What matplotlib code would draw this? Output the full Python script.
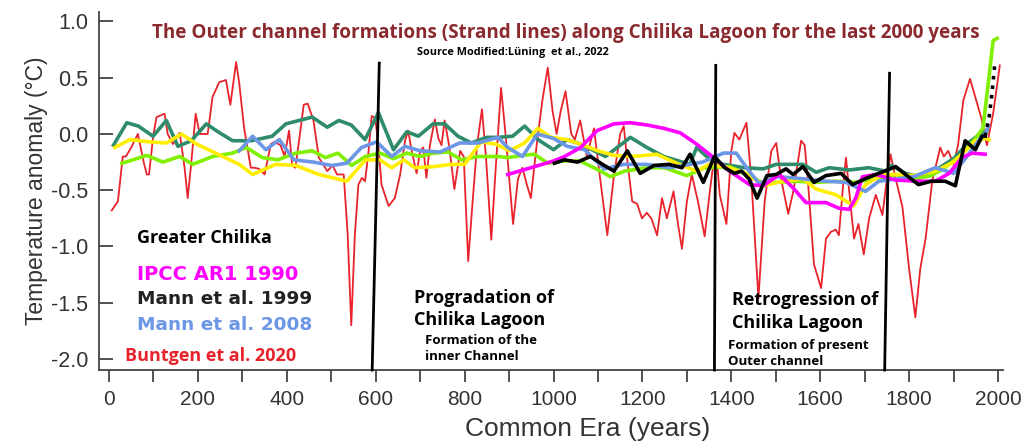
import numpy as np
import matplotlib
matplotlib.use("Agg")
import matplotlib.pyplot as plt

# Buntgen et al. 2020 (red)
red_yr = [6, 20, 31, 38, 50, 65, 78, 85, 90, 100, 107, 125, 132, 144, 159, 170, 177, 184, 195, 204,
          215, 222, 233, 248, 263, 273, 286, 293, 304, 319, 327, 338, 350, 364, 372, 386, 395, 405, 412, 419,
          428, 438, 447, 460, 472, 491, 503, 513, 528, 537, 545, 553, 561, 569, 576, 584, 591, 599, 606, 613,
          629, 643, 655, 666, 673, 681, 692, 700, 707, 714, 722, 733, 741, 748, 755, 765, 777, 790, 798, 808,
          818, 828, 839, 848, 860, 870, 882, 892, 909, 920, 930, 940, 949, 962, 975, 987, 998, 1007, 1016, 1027,
          1040, 1048, 1060, 1075, 1091, 1105, 1121, 1135, 1150, 1158, 1165, 1177, 1188, 1199, 1210, 1220, 1233, 1244, 1255, 1270,
          1280, 1289, 1300, 1311, 1325, 1340, 1352, 1360, 1367, 1374, 1389, 1400, 1407, 1418, 1434, 1445, 1461, 1475, 1490, 1501,
          1512, 1528, 1540, 1557, 1565, 1572, 1586, 1602, 1613, 1624, 1635, 1642, 1651, 1658, 1665, 1676, 1686, 1698, 1710, 1725,
          1740, 1750, 1758, 1770, 1785, 1800, 1814, 1825, 1837, 1852, 1870, 1878, 1888, 1900, 1910, 1922, 1937, 1953, 1964, 1975,
          1989, 2004]
red_val = [-0.68, -0.60, -0.20, -0.20, -0.12, 0.0, -0.25, -0.36, -0.36, 0.0, 0.15, 0.18, 0.0, -0.09, 0.01, -0.30, -0.57, -0.30, 0.18, 0.0,
           0.0, 0.0, 0.33, 0.46, 0.48, 0.26, 0.64, 0.45, 0.05, -0.30, -0.30, -0.31, -0.36, -0.09, -0.07, -0.10, -0.20, 0.03, -0.28, -0.30,
           -0.05, 0.26, 0.27, 0.12, -0.21, -0.33, -0.28, -0.36, -0.36, -0.90, -1.70, -0.90, -0.45, -0.39, -0.42, -0.15, 0.16, 0.14, -0.10, -0.45,
           -0.64, -0.57, -0.36, -0.06, 0.03, -0.15, -0.35, -0.15, -0.12, -0.39, -0.10, 0.13, -0.04, -0.10, 0.12, -0.10, -0.49, -0.15, -0.20, -1.13,
           -0.60, -0.10, 0.22, -0.20, -0.94, -0.30, 0.41, 0.0, -0.80, -0.40, -0.30, -0.45, -0.57, -0.10, 0.30, 0.59, 0.20, 0.0, 0.20, 0.38,
           0.0, -0.05, 0.12, -0.20, 0.05, -0.40, -0.90, -0.40, 0.0, 0.07, -0.20, -0.60, -0.62, -0.75, -0.70, -0.75, -0.90, -0.57, -0.75, -0.51,
           -0.80, -1.02, -0.60, -0.36, -0.60, -0.91, -0.50, -0.25, -0.21, -0.54, -0.80, -0.15, 0.01, -0.05, 0.10, -0.40, -1.46, -0.60, -0.15, -0.08,
           -0.40, -0.71, -0.50, -0.06, -0.10, -0.40, -1.16, -1.37, -0.93, -0.87, -0.85, -0.90, -0.48, -0.21, -0.50, -0.93, -0.80, -1.07, -0.75, -0.54,
           -0.72, -0.40, -0.18, -0.40, -0.65, -1.20, -1.63, -1.20, -0.93, -0.42, -0.12, -0.20, -0.15, -0.27, -0.10, 0.30, 0.49, 0.27, 0.12, -0.10,
           0.18, 0.61]

# teal series
teal_yr = [10, 40, 66, 99, 129, 155, 185, 219, 245, 278, 320, 367, 398, 457, 491, 517, 545, 576, 606, 640,
           670, 696, 729, 755, 785, 815, 850, 875, 908, 935, 965, 1000, 1030, 1061, 1117, 1173, 1210, 1248, 1307, 1322,
           1350, 1382, 1430, 1472, 1501, 1561, 1591, 1620, 1665, 1709, 1747, 1760, 1792, 1821, 1860, 1900, 1933, 1960, 1975]
teal_val = [-0.10, 0.10, 0.07, -0.02, 0.12, -0.11, -0.06, 0.09, 0.02, -0.06, -0.06, -0.02, 0.09, 0.15, 0.06, 0.12, 0.08, -0.05, 0.19, -0.14,
            0.02, -0.02, 0.09, 0.09, -0.02, -0.08, -0.03, -0.03, -0.02, 0.07, -0.05, -0.14, -0.05, -0.09, -0.20, -0.03, -0.12, -0.20, -0.27, -0.12,
            -0.22, -0.27, -0.30, -0.31, -0.27, -0.27, -0.34, -0.30, -0.32, -0.30, -0.33, -0.28, -0.35, -0.38, -0.32, -0.22, -0.08, 0.0, 0.03]

# light green series
lime_yr = [29, 54, 85, 121, 159, 188, 233, 278, 309, 345, 380, 420, 457, 487, 515, 546, 577, 610, 640, 670,
           700, 730, 763, 793, 830, 875, 897, 930, 957, 987, 1020, 1060, 1106, 1128, 1160, 1210, 1250, 1300, 1340, 1396,
           1430, 1472, 1500, 1546, 1591, 1635, 1680, 1720, 1770, 1814, 1850, 1880, 1919, 1949, 1966, 1978, 1989, 1998]
lime_val = [-0.26, -0.23, -0.19, -0.25, -0.20, -0.27, -0.20, -0.17, -0.12, -0.21, -0.23, -0.17, -0.15, -0.21, -0.17, -0.28, -0.20, -0.17, -0.22, -0.17,
            -0.20, -0.17, -0.16, -0.23, -0.20, -0.20, -0.21, -0.19, -0.18, -0.26, -0.24, -0.24, -0.33, -0.38, -0.33, -0.30, -0.30, -0.37, -0.30, -0.29,
            -0.35, -0.44, -0.43, -0.42, -0.43, -0.42, -0.43, -0.40, -0.36, -0.40, -0.37, -0.30, -0.18, -0.04, 0.05, 0.45, 0.83, 0.85]

# yellow series
yel_yr = [13, 47, 90, 129, 163, 197, 245, 293, 323, 375, 420, 472, 535, 577, 610, 636, 663, 688, 730, 770,
          800, 837, 870, 901, 935, 965, 994, 1030, 1061, 1100, 1136, 1180, 1232, 1277, 1322, 1350, 1395, 1440, 1472, 1516,
          1561, 1591, 1635, 1675, 1702, 1740, 1770, 1810, 1859, 1900, 1949, 1971, 1980]
yel_val = [-0.12, -0.05, -0.07, -0.08, 0.0, -0.09, -0.18, -0.27, -0.36, -0.27, -0.28, -0.36, -0.42, -0.23, -0.23, -0.30, -0.23, -0.30, -0.29, -0.27,
           -0.27, -0.07, -0.09, -0.15, -0.08, 0.05, -0.03, -0.05, -0.09, -0.15, -0.19, -0.20, -0.18, -0.26, -0.33, -0.27, -0.30, -0.36, -0.46, -0.42,
           -0.40, -0.49, -0.54, -0.64, -0.45, -0.36, -0.36, -0.37, -0.33, -0.25, -0.06, -0.04, -0.05]

# Mann et al. 2008 (blue)
blue_yr = [293, 323, 353, 383, 416, 460, 501, 535, 568, 602, 636, 666, 700, 745, 789, 830, 875, 897, 930, 964,
           1000, 1031, 1070, 1114, 1158, 1210, 1260, 1307, 1335, 1360, 1382, 1411, 1440, 1463, 1500, 1540, 1613, 1658, 1702, 1732,
           1770, 1810, 1859, 1900, 1930, 1956, 1971, 1978]
blue_val = [-0.15, -0.02, -0.14, -0.05, -0.23, -0.25, -0.28, -0.26, -0.12, -0.07, -0.20, -0.11, -0.15, -0.16, -0.08, -0.08, -0.03, -0.12, -0.20, 0.0,
            -0.04, -0.11, -0.14, -0.31, -0.27, -0.27, -0.30, -0.27, -0.25, -0.21, -0.17, -0.17, -0.33, -0.44, -0.38, -0.39, -0.42, -0.43, -0.51, -0.42,
            -0.40, -0.38, -0.30, -0.35, -0.20, -0.06, 0.0, 0.07]

# IPCC AR1 1990 (magenta)
mag_yr = [897, 949, 1000, 1025, 1061, 1098, 1136, 1173, 1210, 1248, 1285, 1322, 1360, 1396, 1441, 1472, 1508, 1539, 1568, 1613,
          1642, 1665, 1680, 1695, 1725, 1770, 1820, 1859, 1890, 1919, 1942, 1971]
mag_val = [-0.36, -0.30, -0.24, -0.20, -0.12, 0.03, 0.09, 0.10, 0.08, 0.05, 0.01, -0.09, -0.21, -0.33, -0.45, -0.46, -0.36, -0.48, -0.61, -0.61,
           -0.66, -0.67, -0.57, -0.38, -0.36, -0.41, -0.42, -0.42, -0.35, -0.21, -0.17, -0.18]

# Mann et al. 1999 (black) + dotted instrumental end
blk_yr = [1002, 1025, 1054, 1083, 1110, 1136, 1166, 1195, 1226, 1260, 1289, 1307, 1337, 1362, 1385, 1407, 1423, 1440, 1458, 1480,
          1501, 1523, 1539, 1561, 1586, 1613, 1647, 1673, 1700, 1725, 1745, 1770, 1795, 1821, 1850, 1881, 1904, 1926, 1949, 1964, 1971]
blk_val = [-0.26, -0.23, -0.25, -0.20, -0.27, -0.33, -0.15, -0.35, -0.28, -0.27, -0.30, -0.18, -0.43, -0.20, -0.30, -0.35, -0.33, -0.40, -0.57, -0.37,
           -0.36, -0.31, -0.36, -0.29, -0.43, -0.37, -0.35, -0.45, -0.40, -0.36, -0.33, -0.29, -0.37, -0.45, -0.42, -0.42, -0.46, -0.06, -0.14, -0.02, -0.02]
dot_yr = [1971, 1980, 1986, 1993]
dot_val = [-0.02, 0.15, 0.35, 0.63]

# slanted boundary lines (year at top/bottom, value at top)
bound_top_yr = [608, 1365, 1756]
bound_bot_yr = [592, 1362, 1745]
bound_top_val = [0.63, 0.61, 0.54]

ymin, ymax = -2.098, 1.086

fig = plt.figure(figsize=(10.26, 4.45), dpi=100)
ax = fig.add_axes([0.0965, 0.1685, 0.881, 0.805])

ax.plot(red_yr, red_val, color="#e8232b", linewidth=1.3, zorder=2)
ax.plot(teal_yr, teal_val, color="#2e8b6b", linewidth=2.6, zorder=3)
ax.plot(lime_yr, lime_val, color="#80f000", linewidth=2.6, zorder=4)
ax.plot(yel_yr, yel_val, color="#ffee00", linewidth=2.6, zorder=5)
ax.plot(blue_yr, blue_val, color="#6c96e6", linewidth=2.6, zorder=6)
ax.plot(mag_yr, mag_val, color="#ff00ff", linewidth=2.6, zorder=7)
ax.plot(blk_yr, blk_val, color="black", linewidth=2.6, zorder=8)
ax.plot(dot_yr, dot_val, color="black", linewidth=2.6, linestyle=":", zorder=8)

for t, b, v in zip(bound_top_yr, bound_bot_yr, bound_top_val):
    ax.plot([t, b], [v, ymin], color="black", linewidth=2, zorder=9, clip_on=False)

ax.set_xlim(-22.5, 2011)
ax.set_ylim(ymin, ymax)

ax.spines["top"].set_visible(False)
ax.spines["right"].set_visible(False)
for s in ["left", "bottom"]:
    ax.spines[s].set_linewidth(1.3)
    ax.spines[s].set_color("#444444")

ax.set_xticks(range(0, 2001, 100))
ax.set_xticklabels([str(v) if v % 200 == 0 else "" for v in range(0, 2001, 100)])
ax.set_yticks(np.arange(-2.0, 1.01, 0.5))
ax.set_yticklabels(["%.1f" % v for v in np.arange(-2.0, 1.01, 0.5)])
ax.tick_params(axis="x", direction="out", length=8.5, width=1.3, color="#444444",
               labelsize=15, labelcolor="#333333", pad=6)
ax.tick_params(axis="y", direction="in", length=10, width=1.3, color="#444444",
               labelsize=15.5, labelcolor="#333333", pad=8)
for lab in ax.get_xticklabels() + ax.get_yticklabels():
    lab.set_family("Liberation Sans")

ax.set_xlabel("Common Era (years)", fontsize=19, color="#333333", family="Liberation Sans")
ax.xaxis.set_label_coords(0.541, -0.132)
ax.set_ylabel("Temperature anomaly (°C)", fontsize=16.5, color="#333333", family="Liberation Sans", labelpad=2)

fig.text(0.551, 0.926, "The Outer channel formations (Strand lines) along Chilika Lagoon for the last 2000 years",
         ha="center", va="center", fontsize=13.6, fontweight="bold", color="#8b2a2e", family="Open Sans")
fig.text(0.500, 0.881, "Source Modified:Lüning  et al., 2022", ha="center", va="center",
         fontsize=7.8, fontweight="bold", color="black", family="Open Sans")

fig.text(0.1335, 0.465, "Greater Chilika", ha="left", va="center", fontsize=13, fontweight="bold",
         color="black", family="Open Sans")
fig.text(0.1335, 0.384, "IPCC AR1 1990", ha="left", va="center", fontsize=14, fontweight="bold",
         color="#ff00ff", family="DejaVu Sans")
fig.text(0.1335, 0.327, "Mann et al. 1999", ha="left", va="center", fontsize=13.3, fontweight="bold",
         color="#222222", family="DejaVu Sans")
fig.text(0.1335, 0.270, "Mann et al. 2008", ha="left", va="center", fontsize=13.3, fontweight="bold",
         color="#6c96e6", family="DejaVu Sans")
fig.text(0.122, 0.200, "Buntgen et al. 2020", ha="left", va="center", fontsize=13, fontweight="bold",
         color="#e8232b", family="Open Sans")

fig.text(0.4035, 0.306, "Progradation of\nChilika Lagoon", ha="left", va="center", fontsize=13,
         fontweight="bold", color="black", family="Open Sans", linespacing=1.3)
fig.text(0.414, 0.216, "Formation of the\ninner Channel", ha="left", va="center", fontsize=9.5,
         fontweight="bold", color="black", family="Open Sans", linespacing=1.3)
fig.text(0.713, 0.300, "Retrogression of\nChilika Lagoon", ha="left", va="center", fontsize=13,
         fontweight="bold", color="black", family="Open Sans", linespacing=1.3)
fig.text(0.7095, 0.206, "Formation of present\nOuter channel", ha="left", va="center", fontsize=9.5,
         fontweight="bold", color="black", family="Open Sans", linespacing=1.3)

fig.savefig("out.png", dpi=100)
